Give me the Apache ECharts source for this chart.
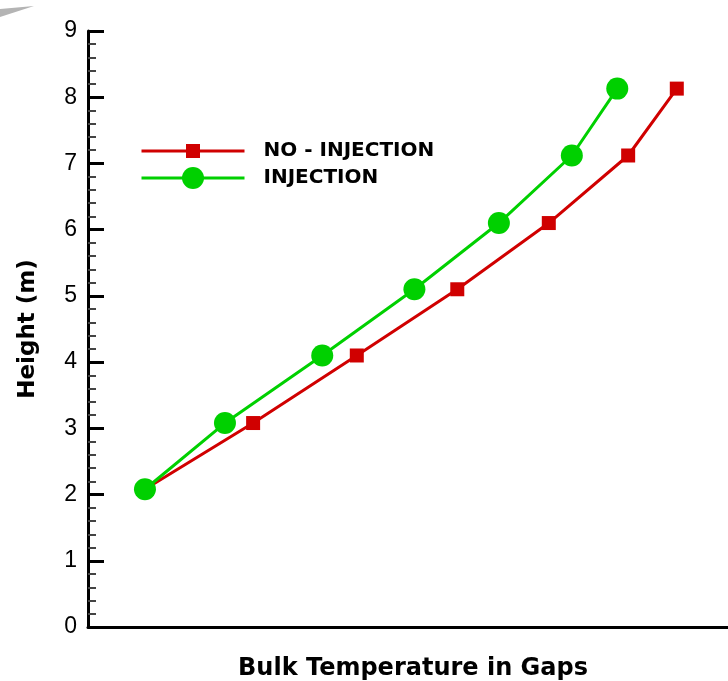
<!DOCTYPE html>
<html>
<head>
<meta charset="utf-8">
<script src="https://cdn.jsdelivr.net/npm/echarts@6/dist/echarts.min.js"></script>
<style>
  html, body { margin: 0; padding: 0; background: #fff; }
  #chart { width: 728px; height: 681px; }
</style>
</head>
<body>
<div id="chart"></div>
<script>
// heights (m) shared by both curves
var heights = [2.08, 3.08, 4.1, 5.1, 6.1, 7.12, 8.13];
// bulk temperature, no axis labels in the source so relative units 0..100
var tempNoInjection = [8.9, 25.8, 42.0, 57.7, 72.0, 84.4, 92.0];
var tempInjection = [8.9, 21.4, 36.6, 51.0, 64.2, 75.6, 82.7];

function pairs(xs, ys) {
  var out = [];
  for (var i = 0; i < xs.length; i++) out.push([xs[i], ys[i]]);
  return out;
}

var chart = echarts.init(document.getElementById('chart'));
var boldFont = 'DejaVu Sans, sans-serif';
var tickFont = 'Liberation Sans, Arial, sans-serif';

var legendText = {
  fontFamily: boldFont,
  fontSize: 20,
  fontWeight: 'bold',
  color: '#000',
  padding: [0, 0, 0, 14]
};

var option = {
  animation: false,
  graphic: [{
    type: 'polygon',
    shape: { points: [[0, 9], [34, 6], [0, 17]] },
    style: { fill: '#b4b4b4' }
  }],
  grid: { left: 88, right: 0, top: 31, bottom: 54, outerBoundsMode: 'none' },
  legend: [
    {
      orient: 'vertical',
      left: 140,
      top: 141,
      padding: 0,
      itemWidth: 103,
      itemHeight: 17.5,
      lineStyle: { width: 3 },
      textStyle: legendText,
      data: ['NO - INJECTION']
    },
    {
      orient: 'vertical',
      left: 140,
      top: 167,
      padding: 0,
      itemWidth: 103,
      itemHeight: 27.5,
      lineStyle: { width: 3 },
      textStyle: legendText,
      data: ['INJECTION']
    }
  ],
  xAxis: {
    type: 'value',
    min: 0,
    max: 100,
    name: 'Bulk Temperature in Gaps',
    nameLocation: 'middle',
    nameGap: 30,
    nameTextStyle: { fontFamily: boldFont, fontSize: 24, fontWeight: 'bold', color: '#000', padding: [0, 0, 0, 10] },
    axisLine: { lineStyle: { color: '#000', width: 3 } },
    axisTick: { show: false },
    axisLabel: { show: false },
    splitLine: { show: false }
  },
  yAxis: {
    type: 'value',
    min: 0,
    max: 9,
    interval: 1,
    name: 'Height (m)',
    nameLocation: 'middle',
    nameRotate: 90,
    nameGap: 48,
    nameTextStyle: { fontFamily: boldFont, fontSize: 23, fontWeight: 'bold', color: '#000' },
    axisLine: { show: true, lineStyle: { color: '#000', width: 3 } },
    axisTick: { inside: true, length: 16, lineStyle: { color: '#000', width: 3 } },
    minorTick: { show: true, splitNumber: 5, length: 8, lineStyle: { color: '#444', width: 2 } },
    axisLabel: { fontFamily: tickFont, fontSize: 23, color: '#000', margin: 11 },
    splitLine: { show: false }
  },
  series: [
    {
      name: 'NO - INJECTION',
      type: 'line',
      data: pairs(tempNoInjection, heights),
      symbol: 'rect',
      symbolSize: 14,
      itemStyle: { color: '#d00000' },
      lineStyle: { color: '#d00000', width: 3 },
      z: 2
    },
    {
      name: 'INJECTION',
      type: 'line',
      data: pairs(tempInjection, heights),
      symbol: 'circle',
      symbolSize: 22,
      itemStyle: { color: '#00d000' },
      lineStyle: { color: '#00d000', width: 3 },
      z: 3
    }
  ]
};

chart.setOption(option);
</script>
</body>
</html>
